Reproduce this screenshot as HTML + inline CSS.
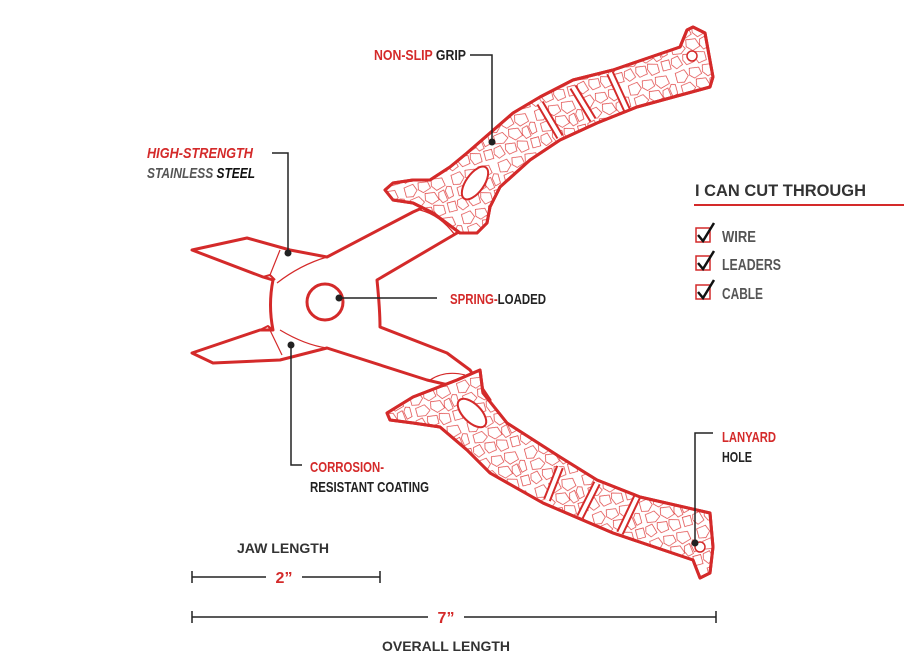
<!DOCTYPE html>
<html><head><meta charset="utf-8"><style>
html,body{margin:0;padding:0;background:#fff}
svg{display:block}
text{font-family:"Liberation Sans",sans-serif;font-weight:bold}
</style></head><body>
<svg width="904" height="664" viewBox="0 0 904 664" xmlns="http://www.w3.org/2000/svg">
<defs>
<pattern id="tex" width="36" height="30" patternUnits="userSpaceOnUse" patternTransform="scale(1.35) rotate(-15)">
<rect width="36" height="30" fill="#fff"/>
<g fill="none" stroke="#d33" stroke-width="0.5">
<path d="M1,2 L8,1 L10,6 L6,10 L1,9 Z"/><path d="M12,1 L19,2 L20,7 L14,9 L11,6 Z"/><path d="M22,1 L30,2 L31,8 L24,10 L21,6 Z"/>
<path d="M32,9 L35,10 L35,17 L31,18 L30,12 Z"/><path d="M3,12 L10,11 L13,16 L9,19 L3,18 Z"/><path d="M15,10 L22,11 L24,17 L18,19 L14,15 Z"/>
<path d="M25,12 L29,11 L30,19 L26,20 L24,16 Z"/><path d="M1,21 L6,20 L8,27 L3,29 L0,25 Z"/><path d="M10,20 L17,21 L17,27 L11,28 L9,24 Z"/>
<path d="M19,20 L26,22 L26,28 L20,29 L18,24 Z"/><path d="M29,21 L35,21 L35,28 L29,28 Z"/>
</g></pattern>
<clipPath id="cu"><path id="pu" d="M693,27 L705,33 L713,77 L710,87 L637,107 L597,123 L560,140 L530,160 L500,187 L490,207 L487,223 L477,233 L460,233 L433,213 L413,203 L393,200 L385,190 L393,183 L413,180 L430,180 L450,167 L467,153 L513,113 L540,97 L573,80 L613,70 L680,47 L687,30 Z"/></clipPath>
<clipPath id="cl"><path id="pl" d="M387,413 L413,397 L457,380 L480,370 L483,393 L507,423 L560,457 L597,480 L640,497 L710,513 L713,547 L710,573 L700,578 L693,560 L613,533 L543,503 L490,473 L467,450 L440,427 L413,423 L390,420 Z"/></clipPath>
</defs>
<g stroke="#d42a2a" stroke-width="3" fill="#fff" stroke-linejoin="round">
<path d="M327,257 L413,212 L440,200 L470,228 L457,233 L377,280 Q380,310 380,327 L447,353 L470,370 L490,400 L457,387 L427,380 L327,348 L280,360 L213,363 L192,353 L260,330 L273,330 Q268,305 273,280 L263,277 L192,250 L247,238 L290,250 Z"/>
<path d="M263,277 L270,275 L275,280 M260,330 L268,326 L273,330" fill="none" stroke-width="2"/>
<path d="M270,275 L280,250 M277,283 Q300,265 327,257 M268,326 L282,355 M280,330 Q305,345 327,348" fill="none" stroke-width="1.2"/>
<path d="M420,210 Q440,215 455,235 M430,380 Q445,370 465,375" fill="none" stroke-width="1.2"/>
<circle cx="325" cy="302" r="18"/>
<use href="#pu" fill="url(#tex)"/>
<use href="#pl" fill="url(#tex)"/>
<g clip-path="url(#cu)" fill="none"><path d="M540,103 L560,137 M573,87 L593,120 M610,73 L627,110" stroke-width="8"/><path d="M540,103 L560,137 M573,87 L593,120 M610,73 L627,110" stroke="#fff" stroke-width="4"/></g>
<g clip-path="url(#cl)" fill="none"><path d="M560,467 L547,500 M597,483 L580,517 M637,497 L620,533" stroke-width="8"/><path d="M560,467 L547,500 M597,483 L580,517 M637,497 L620,533" stroke="#fff" stroke-width="4"/></g>
<use href="#pu" fill="none"/>
<use href="#pl" fill="none"/>
<ellipse cx="475" cy="183" rx="9" ry="19" transform="rotate(35 475 183)" stroke-width="2"/>
<ellipse cx="472" cy="413" rx="9" ry="18" transform="rotate(-45 472 413)" stroke-width="2"/>
<circle cx="692" cy="56" r="5" stroke-width="1.5"/>
<circle cx="700" cy="547" r="5" stroke-width="1.5"/>
</g>
<g stroke="#222" stroke-width="1.5" fill="none">
<path d="M470,55 H492 V142"/><path d="M272,153 H288 V253"/><path d="M339,298 H437"/>
<path d="M291,345 V465 H302"/><path d="M713,433 H695 V543"/>
<path d="M192,577 H380 M192,571 V583 M380,571 V583"/><path d="M192,617 H716 M192,611 V623 M716,611 V623"/>
</g>
<g fill="#222"><circle cx="492" cy="142" r="3.5"/><circle cx="288" cy="253" r="3.5"/><circle cx="339" cy="298" r="3.5"/><circle cx="291" cy="345" r="3.5"/><circle cx="695" cy="543" r="3.5"/></g>
<g font-size="15" lengthAdjust="spacingAndGlyphs">
<text x="374" y="60" fill="#d42a2a" textLength="92" lengthAdjust="spacingAndGlyphs">NON-SLIP <tspan fill="#222">GRIP</tspan></text>
<text x="147" y="158" fill="#d42a2a" font-style="italic" textLength="106" lengthAdjust="spacingAndGlyphs">HIGH-STRENGTH</text>
<text x="147" y="178" fill="#555" font-style="italic" textLength="108" lengthAdjust="spacingAndGlyphs">STAINLESS <tspan fill="#111">STEEL</tspan></text>
<text x="450" y="304" fill="#d42a2a" textLength="96" lengthAdjust="spacingAndGlyphs">SPRING-<tspan fill="#222">LOADED</tspan></text>
<text x="310" y="472" fill="#d42a2a" textLength="74" lengthAdjust="spacingAndGlyphs">CORROSION-</text>
<text x="310" y="492" fill="#222" textLength="119" lengthAdjust="spacingAndGlyphs">RESISTANT COATING</text>
<text x="722" y="442" fill="#d42a2a" textLength="54" lengthAdjust="spacingAndGlyphs">LANYARD</text>
<text x="722" y="462" fill="#222" textLength="30" lengthAdjust="spacingAndGlyphs">HOLE</text>
</g>
<g font-size="14" fill="#333">
<text x="237" y="553" textLength="92" lengthAdjust="spacingAndGlyphs">JAW LENGTH</text>
<text x="382" y="651" textLength="128" lengthAdjust="spacingAndGlyphs">OVERALL LENGTH</text>
</g>
<rect x="266" y="568" width="36" height="18" fill="#fff"/>
<rect x="428" y="608" width="36" height="18" fill="#fff"/>
<text x="284" y="583" font-size="16" fill="#d42a2a" text-anchor="middle">2”</text>
<text x="446" y="623" font-size="16" fill="#d42a2a" text-anchor="middle">7”</text>
<text x="695" y="196" font-size="17" fill="#333" textLength="171" lengthAdjust="spacingAndGlyphs">I CAN CUT THROUGH</text>
<line x1="694" y1="205" x2="904" y2="205" stroke="#d42a2a" stroke-width="2"/>
<g font-size="16" fill="#555" font-weight="normal">
<text x="722" y="242" textLength="34" lengthAdjust="spacingAndGlyphs">WIRE</text>
<text x="722" y="270" textLength="59" lengthAdjust="spacingAndGlyphs">LEADERS</text>
<text x="722" y="299" textLength="41" lengthAdjust="spacingAndGlyphs">CABLE</text>
</g>
<g fill="none">
<rect x="696" y="228" width="14" height="14" stroke="#d42a2a" stroke-width="1.5"/>
<rect x="696" y="256" width="14" height="14" stroke="#d42a2a" stroke-width="1.5"/>
<rect x="696" y="285" width="14" height="14" stroke="#d42a2a" stroke-width="1.5"/>
<path d="M698,235 L703,241 L714,223 M698,263 L703,269 L714,251 M698,292 L703,298 L714,280" stroke="#111" stroke-width="2.5"/>
</g>
</svg>
</body></html>
